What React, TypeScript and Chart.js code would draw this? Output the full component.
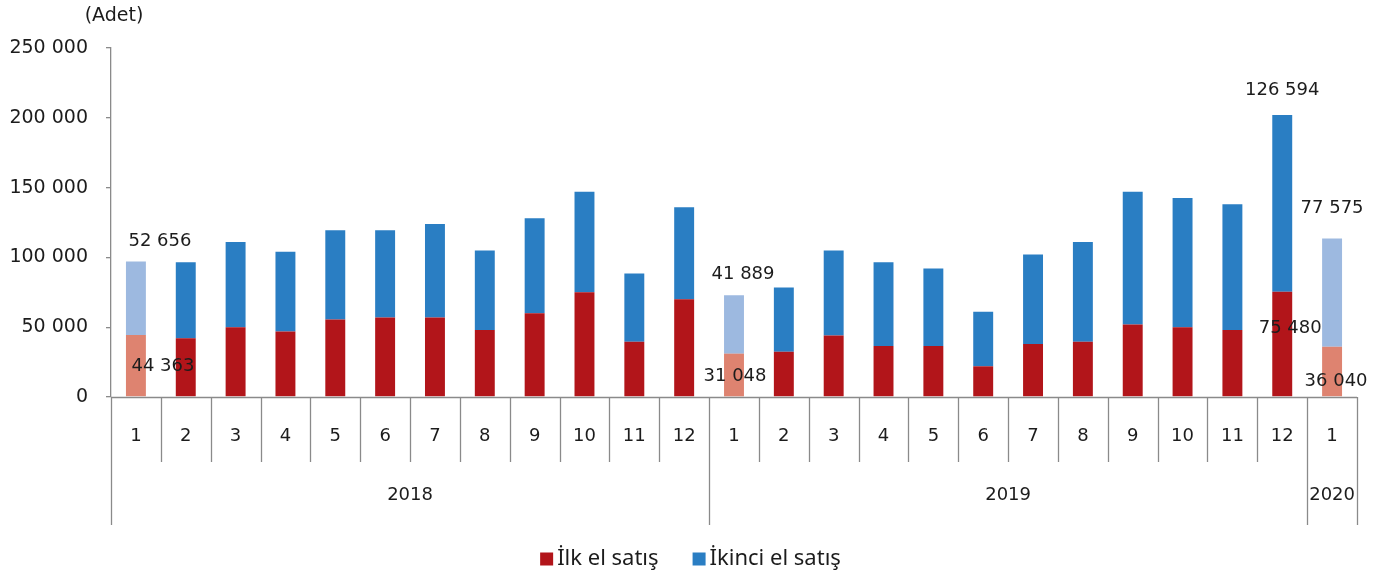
import React, { useEffect, useRef } from 'react';
import { Chart, registerables } from 'chart.js';

Chart.register(...registerables);

// ---- data ----
const months = ['1', '2', '3', '4', '5', '6', '7', '8', '9', '10', '11', '12', '1', '2', '3', '4', '5', '6', '7', '8', '9', '10', '11', '12', '1'];
const years = ['2018', '2019', '2020'];
const yearSpans = [12, 12, 1];
const seriesNames = ['İlk el satış', 'İkinci el satış'];
const firstHand = [44363, 42000, 50000, 47000, 55500, 57000, 57000, 48000, 60000, 75000, 39500, 70000, 31048, 32500, 44000, 36500, 36500, 22000, 38000, 39500, 52000, 50000, 48000, 75480, 36040];
const secondHand = [52656, 54500, 61000, 57000, 64000, 62500, 67000, 57000, 68000, 72000, 49000, 66000, 41889, 46000, 61000, 60000, 55500, 39000, 64000, 71500, 95000, 92500, 90000, 126594, 77575];
const yMin = 0;
const yMax = 250000;
const yStep = 50000;
const unitLabel = '(Adet)';
// bars that carry value labels
const labelledBars = [0, 12, 23, 24];

// ---- styles ----
const RED = '#B2151A';
const BLUE = '#2A7EC3';
const RED_LIGHT = '#DE8370';
const BLUE_LIGHT = '#9DB9E0';
const AXIS = '#8a8a8a';
const TEXT = '#1c1c1c';
const FONT = "'DejaVu Sans'";
const LABEL_OFFSETS: Record<string, { dx: number; dy: number }> = {
  '0-1': { dx: 24, dy: -20 },
  '0-0': { dx: 27, dy: 1 },
  '12-1': { dx: 9, dy: -21 },
  '12-0': { dx: 1, dy: 1 },
  '23-1': { dx: 0, dy: -25 },
  '23-0': { dx: 8, dy: -16 },
  '24-1': { dx: 0, dy: -30 },
  '24-0': { dx: 4, dy: 10 },
};

const fmt = (v: number) => String(Math.round(v)).replace(/\B(?=(\d{3})+(?!\d))/g, ' ');

const decorPlugin = {
  id: 'decor',
  afterDraw(chart: any) {
    const ctx: CanvasRenderingContext2D = chart.ctx;
    const ca = chart.chartArea;
    const xs = chart.scales.x;
    const n = months.length;
    const w = (ca.right - ca.left) / n;
    ctx.save();

    // x axis line
    ctx.strokeStyle = AXIS;
    ctx.lineWidth = 1.3;
    ctx.beginPath();
    ctx.moveTo(ca.left, ca.bottom + 0.5);
    ctx.lineTo(ca.right, ca.bottom + 0.5);
    ctx.stroke();

    // separators
    const yearBounds = new Set<number>();
    let acc = 0;
    yearBounds.add(0);
    yearSpans.forEach((s) => {
      acc += s;
      yearBounds.add(acc);
    });
    for (let k = 0; k <= n; k++) {
      const x = Math.round(ca.left + k * w) + 0.5;
      const len = yearBounds.has(k) ? 128 : 65;
      ctx.beginPath();
      ctx.moveTo(x, ca.bottom);
      ctx.lineTo(x, ca.bottom + len);
      ctx.stroke();
    }

    // category labels
    ctx.fillStyle = TEXT;
    ctx.font = `18px ${FONT}`;
    ctx.textAlign = 'center';
    ctx.textBaseline = 'middle';
    months.forEach((m, i) => {
      ctx.fillText(m, xs.getPixelForValue(i), ca.bottom + 39);
    });

    // year labels
    acc = 0;
    years.forEach((y, j) => {
      const cx = ca.left + (acc + yearSpans[j] / 2) * w;
      ctx.fillText(y, cx, ca.bottom + 98);
      acc += yearSpans[j];
    });

    // unit label
    ctx.font = `19px ${FONT}`;
    ctx.fillText(unitLabel, 114, 16);

    // value labels
    ctx.font = `18px ${FONT}`;
    const sets = [firstHand, secondHand];
    labelledBars.forEach((i) => {
      [1, 0].forEach((ds) => {
        const el = chart.getDatasetMeta(ds).data[i];
        const off = LABEL_OFFSETS[`${i}-${ds}`] || { dx: 0, dy: 0 };
        const anchorY = ds === 1 ? el.y : (el.y + el.base) / 2;
        ctx.fillText(fmt(sets[ds][i]), el.x + off.dx, anchorY + off.dy);
      });
    });

    // legend
    ctx.font = `22px 'Noto Sans'`;
    ctx.textAlign = 'left';
    const box = 13;
    const gap = 4;
    const spacing = 34;
    const widths = seriesNames.map((s) => ctx.measureText(s).width);
    const total = widths.reduce((a, b) => a + b, 0) + 2 * (box + gap) + spacing;
    let x = chart.width / 2 - total / 2;
    const ly = 559;
    [RED, BLUE].forEach((c, k) => {
      ctx.fillStyle = c;
      ctx.fillRect(x, ly - box / 2, box, box);
      x += box + gap;
      ctx.fillStyle = TEXT;
      ctx.fillText(seriesNames[k], x, ly);
      x += widths[k] + spacing;
    });

    ctx.restore();
  },
};

export default function App() {
  const ref = useRef<HTMLCanvasElement>(null);
  useEffect(() => {
    if (!ref.current) return;
    const isJan = (i: number) => months[i] === '1';
    const chart = new Chart(ref.current, {
      type: 'bar',
      data: {
        labels: months,
        datasets: [
          {
            label: seriesNames[0],
            data: firstHand,
            backgroundColor: firstHand.map((_, i) => (isJan(i) ? RED_LIGHT : RED)),
            barPercentage: 0.4,
            categoryPercentage: 1,
          },
          {
            label: seriesNames[1],
            data: secondHand,
            backgroundColor: secondHand.map((_, i) => (isJan(i) ? BLUE_LIGHT : BLUE)),
            barPercentage: 0.4,
            categoryPercentage: 1,
          },
        ],
      },
      options: {
        animation: false,
        responsive: false,
        maintainAspectRatio: false,
        layout: { padding: { left: 0, right: 24, top: 48, bottom: 181 } },
        plugins: { legend: { display: false }, tooltip: { enabled: false } },
        scales: {
          x: { stacked: true, display: false, offset: true },
          y: {
            stacked: true,
            min: yMin,
            max: yMax,
            afterFit: (s: any) => {
              s.width = 111;
            },
            ticks: {
              stepSize: yStep,
              padding: 18,
              color: TEXT,
              font: { family: 'DejaVu Sans', size: 19 },
              callback: (v: any) => fmt(Number(v)),
            },
            grid: { drawOnChartArea: false, drawTicks: true, tickLength: 5, color: AXIS, lineWidth: 1.3 },
            border: { display: true, color: AXIS, width: 1.3 },
          },
        },
      },
      plugins: [decorPlugin],
    });
    return () => chart.destroy();
  }, []);
  return (
    <div style={{ position: 'absolute', left: 0, top: 0, width: 1381, height: 578, background: '#fff' }}>
      <canvas ref={ref} width={1381} height={578} style={{ display: 'block' }} />
    </div>
  );
}
